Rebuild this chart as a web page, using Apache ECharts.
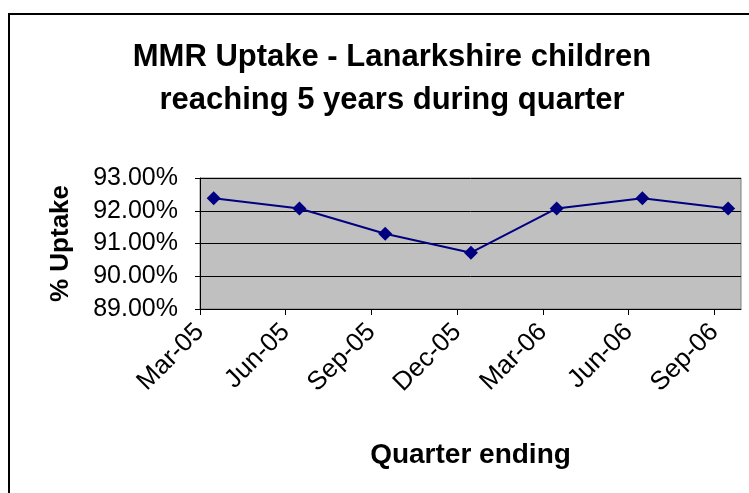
<!DOCTYPE html>
<html>
<head>
<meta charset="utf-8">
<script src="https://cdn.jsdelivr.net/npm/echarts@6/dist/echarts.min.js"></script>
<style>
  html, body { margin: 0; padding: 0; background: #fff; }
  #chart { width: 749px; height: 493px; }
</style>
</head>
<body>
<div id="chart"></div>
<script>
// quarter labels and uptake (%)
var quarters = ['Mar-05', 'Jun-05', 'Sep-05', 'Dec-05', 'Mar-06', 'Jun-06', 'Sep-06'];
var uptake = [92.38, 92.07, 91.3, 90.72, 92.07, 92.38, 92.07];
var yTicks = [89, 90, 91, 92, 93];

// excel date axis: points sit a little after the quarter tick
var pointOffset = 0.16;
var axisEnd = 6.31;

var chart = echarts.init(document.getElementById('chart'));

var tickValues = quarters.map(function (q, i) { return i; });
var font = 'Liberation Sans, Arial, sans-serif';

var option = {
    animation: false,
    backgroundColor: '#fff',
    title: {
        text: 'MMR Uptake - Lanarkshire children\nreaching 5 years during quarter',
        left: 387,
        top: 31,
        textAlign: 'center',
        textStyle: {
            fontFamily: font,
            fontWeight: 'bold',
            fontSize: 31,
            lineHeight: 43,
            color: '#000'
        }
    },
    graphic: [
        {
            type: 'rect',
            shape: { x: 9, y: 14, width: 760, height: 500 },
            style: { fill: 'none', stroke: '#000', lineWidth: 2 },
            silent: true
        }
    ],
    grid: {
        left: 200,
        top: 178,
        right: 8,
        bottom: 184,
        show: true,
        backgroundColor: '#C0C0C0',
        borderColor: '#808080',
        borderWidth: 1
    },
    xAxis: {
        type: 'value',
        min: 0,
        max: axisEnd,
        interval: 1,
        name: 'Quarter ending',
        nameLocation: 'middle',
        nameGap: 132,
        nameTextStyle: {
            fontFamily: font,
            fontWeight: 'bold',
            fontSize: 28,
            color: '#000'
        },
        axisLine: { show: true, onZero: false, lineStyle: { color: '#000', width: 1 } },
        axisTick: { show: true, length: 6, customValues: tickValues, lineStyle: { color: '#000' } },
        axisLabel: {
            customValues: tickValues,
            rotate: 45,
            margin: 19,
            fontFamily: font,
            fontSize: 26,
            color: '#000',
            formatter: function (v) {
                return quarters[Math.round(v)] || '';
            }
        },
        splitLine: { show: false }
    },
    yAxis: {
        type: 'value',
        min: yTicks[0],
        max: yTicks[yTicks.length - 1],
        interval: 1,
        name: '% Uptake',
        nameLocation: 'middle',
        nameGap: 126,
        nameTextStyle: {
            fontFamily: font,
            fontWeight: 'bold',
            fontSize: 26,
            color: '#000'
        },
        axisLine: { show: true, lineStyle: { color: '#000', width: 1 } },
        axisTick: { show: true, length: 5, lineStyle: { color: '#000' } },
        axisLabel: {
            margin: 22,
            fontFamily: font,
            fontSize: 25,
            color: '#000',
            formatter: function (v) { return v.toFixed(2) + '%'; }
        },
        splitLine: { show: true, lineStyle: { color: '#000', width: 1 } }
    },
    series: [
        {
            type: 'line',
            data: uptake.map(function (v, i) { return [i + pointOffset, v]; }),
            symbol: 'diamond',
            symbolSize: 14,
            lineStyle: { color: '#000080', width: 2 },
            itemStyle: { color: '#000080' }
        }
    ]
};

chart.setOption(option);
</script>
</body>
</html>
